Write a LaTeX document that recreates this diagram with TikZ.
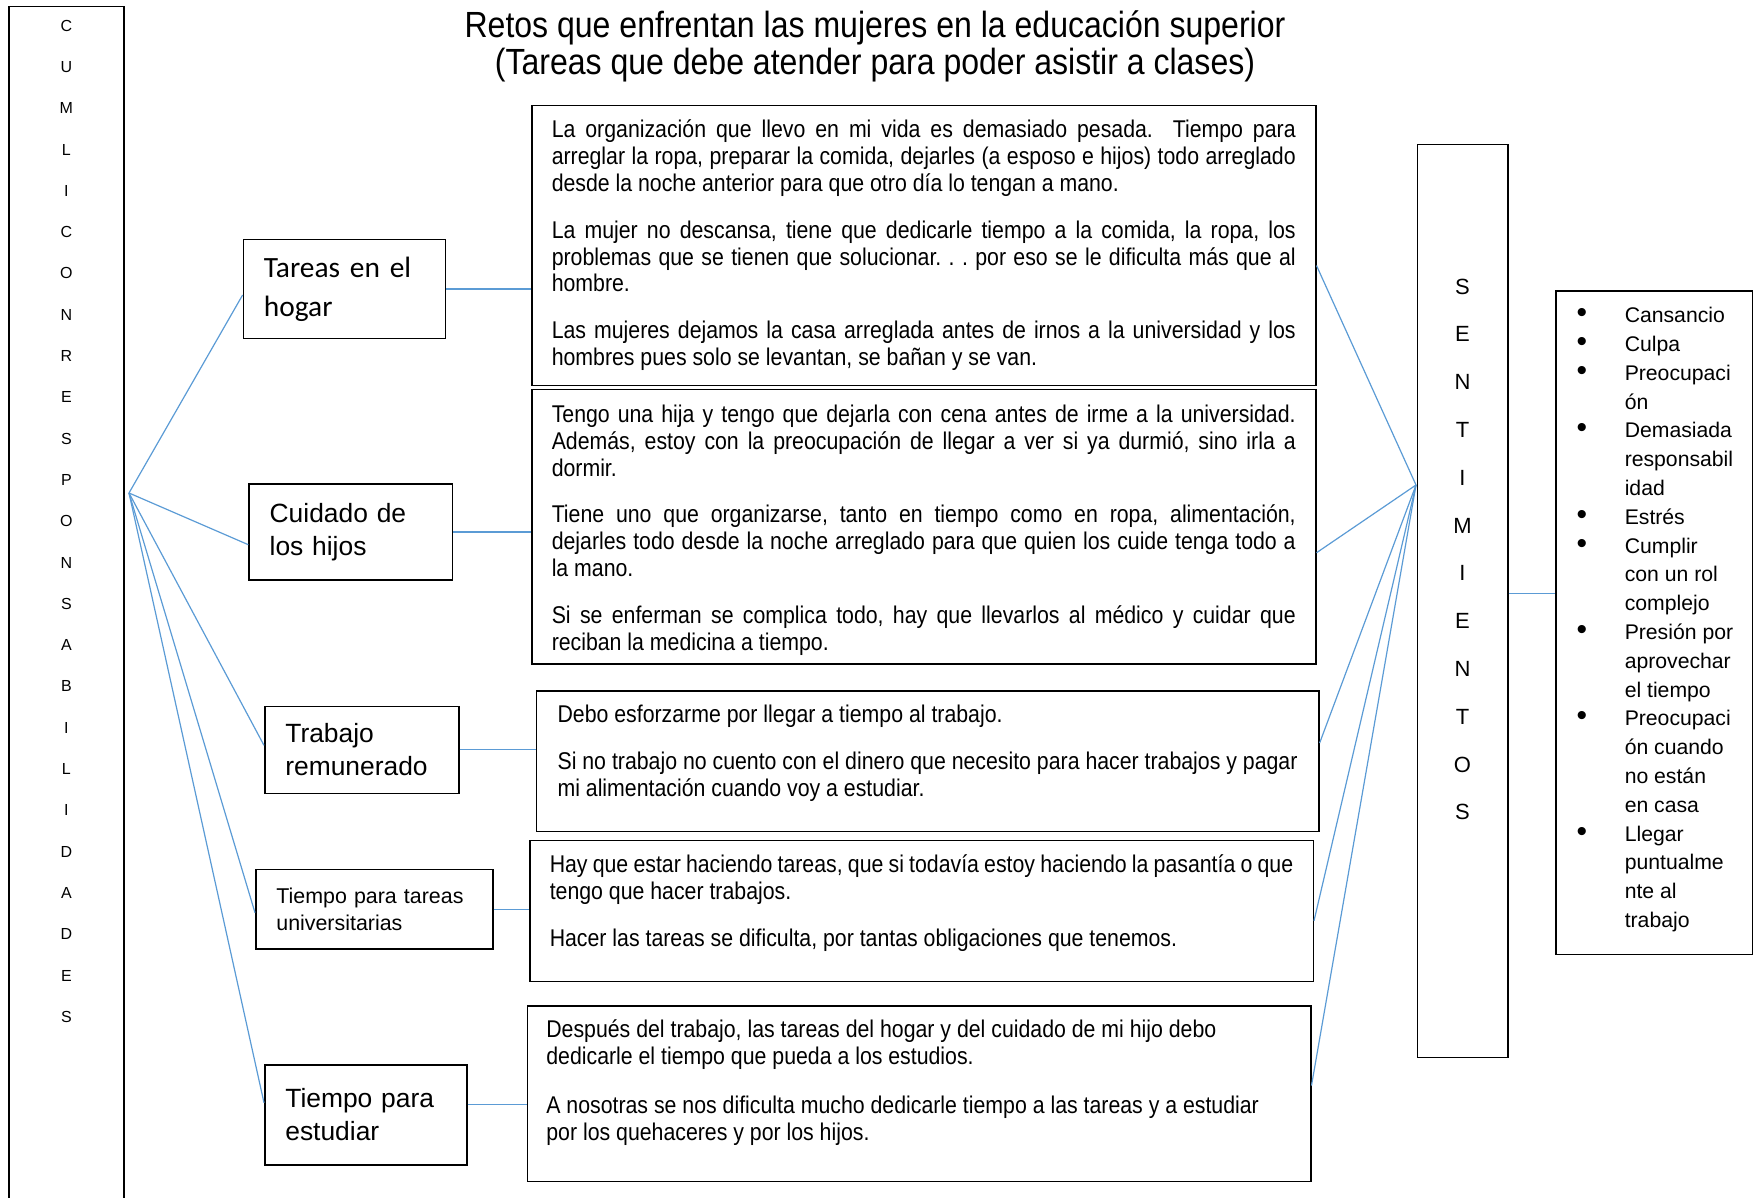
\documentclass[tikz,border=0pt]{standalone}
\usepackage{fontspec}
\setmainfont{Liberation Sans}
\newfontfamily\estrecha[FakeStretch=0.88]{Liberation Sans}
\newfontfamily\calibri{Carlito}
\usetikzlibrary{calc}
\definecolor{azulliga}{RGB}{91,155,213}
\frenchspacing
\newcommand{\linea}[1]{\makebox[\linewidth][s]{#1}}
\newcommand{\vineta}[1]{\makebox[34.5pt][l]{\makebox[26pt]{\fontsize{15}{14.4}\selectfont\textbullet}}#1}
\newcommand{\sigue}[1]{\hspace*{34.5pt}#1}

\begin{document}
\begin{tikzpicture}[
  x=0.5pt, y=-0.5pt,
  caja/.style={draw,line width=0.75pt,anchor=north west,inner sep=0pt},
  tema/.style={draw,line width=0.75pt,anchor=north west,align=left,inner xsep=10.3pt,font={\fontsize{13.2}{16.7}\selectfont}},
  relato/.style={draw,line width=0.75pt,anchor=north west,inner xsep=10pt,inner ysep=7.1pt,font={\estrecha\fontsize{12.1}{13.4}\selectfont}},
  liga/.style={draw=azulliga,line width=0.6pt}
]
\useasboundingbox (0,0) rectangle (1753,1198);

\node[font={\estrecha\fontsize{18.2}{18.45}\selectfont},align=center] (titulo) at (875,46)
  {Retos que enfrentan las mujeres en la educación superior\\(Tareas que debe atender para poder asistir a clases)};

\node[caja] (cumple) at (8,6) {\parbox[c][610pt][t]{57.6pt}{\centering\fontsize{8}{20.65}\selectfont\vspace*{6.6pt}%
  C\\U\\M\\L\\I\\C\\O\\N\\R\\E\\S\\P\\O\\N\\S\\A\\B\\I\\L\\I\\D\\A\\D\\E\\S}};

\node[tema,font={\calibri\fontsize{14.7}{19.5}\selectfont},text width=80.5pt,minimum height=49.3pt] (hogar) at (242.6,239) {Tareas en el\\hogar};
\node[tema,text width=81pt,minimum height=47.85pt] (hijos) at (248.3,483.3) {Cuidado de\\los hijos};
\node[tema,text width=76.4pt,minimum height=43.6pt] (trabajo) at (264,705.5) {Trabajo\\remunerado};
\node[tema,font={\fontsize{10.7}{13.5}\selectfont},text width=97.9pt,minimum height=39.65pt] (tareasu) at (255,868.7) {Tiempo para tareas\\universitarias};
\node[tema,text width=80.4pt,minimum height=50pt] (estudio) at (264,1064) {Tiempo para\\estudiar};

\node[relato,inner ysep=7.2pt] (hogartxt) at (531,105) {\parbox[c][125.4pt][t]{372pt}{%
  \linea{La organización que llevo en mi vida es demasiado pesada.~ Tiempo para}\\
  \linea{arreglar la ropa, preparar la comida, dejarles (a esposo e hijos) todo arreglado}\\
  desde la noche anterior para que otro día lo tengan a mano.\\[10pt]
  \linea{La mujer no descansa, tiene que dedicarle tiempo a la comida, la ropa, los}\\
  \linea{problemas que se tienen que solucionar. . . por eso se le dificulta más que al}\\
  hombre.\\[10pt]
  \linea{Las mujeres dejamos la casa arreglada antes de irnos a la universidad y los}\\
  hombres pues solo se levantan, se bañan y se van.}};
\node[relato,inner ysep=7.65pt] (hijostxt) at (531,389) {\parbox[c][121.7pt][t]{372pt}{%
  \linea{Tengo una hija y tengo que dejarla con cena antes de irme a la universidad.}\\
  \linea{Además, estoy con la preocupación de llegar a ver si ya durmió, sino irla a}\\
  dormir.\\[10pt]
  \linea{Tiene uno que organizarse, tanto en tiempo como en ropa, alimentación,}\\
  \linea{dejarles todo desde la noche arreglado para que quien los cuide tenga todo a}\\
  la mano.\\[10pt]
  \linea{Si se enferman se complica todo, hay que llevarlos al médico y cuidar que}\\
  reciban la medicina a tiempo.}};
\node[relato,inner xsep=10.65pt,inner ysep=6.9pt] (trabajotxt) at (535.5,690) {\parbox[c][56.55pt][t]{370pt}{\raggedright
  Debo esforzarme por llegar a tiempo al trabajo.\\[10.5pt]
  \linea{Si no trabajo no cuento con el dinero que necesito para hacer trabajos y pagar}\\
  mi alimentación cuando voy a estudiar.}};
\node[relato] (tareasutxt) at (529,839.6) {\parbox[c][56.25pt][t]{371.75pt}{\raggedright
  \linea{Hay que estar haciendo tareas, que si todavía estoy haciendo la pasantía o que}\\
  tengo que hacer trabajos.\\[10.5pt]
  Hacer las tareas se dificulta, por tantas obligaciones que tenemos.}};
\node[relato,inner xsep=9.5pt] (estudiotxt) at (526.6,1005) {\parbox[c][73.6pt][t]{372.7pt}{\raggedright
  Después del trabajo, las tareas del hogar y del cuidado de mi hijo debo\\
  dedicarle el tiempo que pueda a los estudios.\\[11pt]
  A nosotras se nos dificulta mucho dedicarle tiempo a las tareas y a estudiar\\
  por los quehaceres y por los hijos.}};

\node[caja] (siente) at (1416.5,144) {\parbox[c][456.25pt][t]{45.25pt}{\centering\fontsize{11}{23.9}\selectfont\vspace*{67pt}%
  S\\E\\N\\T\\I\\M\\I\\E\\N\\T\\O\\S}};

\node[caja] (lista) at (1555,290.5) {\parbox[c][331.5pt][t]{98.5pt}{\raggedright\fontsize{10.6}{14.4}\selectfont\vspace*{8pt}%
  \vineta{Cansancio}\\\vineta{Culpa}\\\vineta{Preocupaci}\\\sigue{ón}\\
  \vineta{Demasiada}\\\sigue{responsabil}\\\sigue{idad}\\\vineta{Estrés}\\
  \vineta{Cumplir}\\\sigue{con un rol}\\\sigue{complejo}\\
  \vineta{Presión por}\\\sigue{aprovechar}\\\sigue{el tiempo}\\
  \vineta{Preocupaci}\\\sigue{ón cuando}\\\sigue{no están}\\\sigue{en casa}\\
  \vineta{Llegar}\\\sigue{puntualme}\\\sigue{nte al}\\\sigue{trabajo}}};

\coordinate (nudoizq) at (129,493);
\coordinate (nudoder) at (1416,485);

\draw[liga] (nudoizq) -- ([yshift=-3pt]hogar.west);
\draw[liga] (nudoizq) -- ([yshift=-6.4pt]hijos.west);
\draw[liga] (nudoizq) -- ([yshift=2.25pt]trabajo.west);
\draw[liga] (nudoizq) -- ([yshift=-1.8pt]tareasu.west);
\draw[liga] (nudoizq) -- ([yshift=6pt]estudio.west);

\draw[liga] (hogar.east) -- (hogar.east -| hogartxt.west);
\draw[liga] (hijos.east) -- (hijos.east -| hijostxt.west);
\draw[liga] (trabajo.east) -- (trabajo.east -| trabajotxt.west);
\draw[liga] (tareasu.east) -- (tareasu.east -| tareasutxt.west);
\coordinate (e1) at ([yshift=5pt]estudio.east);
\draw[liga] (e1) -- (e1 -| estudiotxt.west);

\draw[liga] ([yshift=-10pt]hogartxt.east) -- (nudoder);
\draw[liga] ([yshift=-13pt]hijostxt.east) -- (nudoder);
\draw[liga] ([yshift=9pt]trabajotxt.east) -- (nudoder);
\draw[liga] ([yshift=-5pt]tareasutxt.east) -- (nudoder);
\draw[liga] ([yshift=4pt]estudiotxt.east) -- (nudoder);

\coordinate (s1) at ([yshift=3.9pt]siente.east);
\draw[liga] (s1) -- (s1 -| lista.west);
\end{tikzpicture}
\end{document}
